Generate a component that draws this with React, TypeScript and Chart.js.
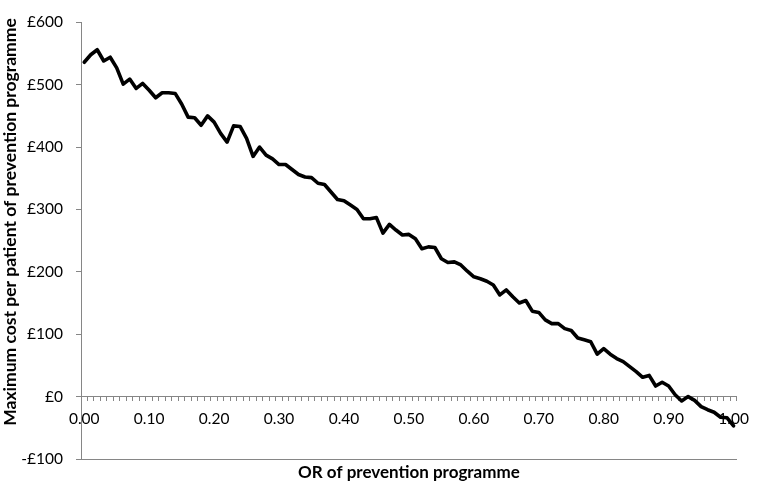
import React, { useEffect, useRef } from "react";
import { Chart, registerables } from "chart.js";

Chart.register(...registerables);

const OR_CATEGORIES = [
  "0.00","0.01","0.02","0.03","0.04","0.05","0.06","0.07","0.08","0.09",
  "0.10","0.11","0.12","0.13","0.14","0.15","0.16","0.17","0.18","0.19",
  "0.20","0.21","0.22","0.23","0.24","0.25","0.26","0.27","0.28","0.29",
  "0.30","0.31","0.32","0.33","0.34","0.35","0.36","0.37","0.38","0.39",
  "0.40","0.41","0.42","0.43","0.44","0.45","0.46","0.47","0.48","0.49",
  "0.50","0.51","0.52","0.53","0.54","0.55","0.56","0.57","0.58","0.59",
  "0.60","0.61","0.62","0.63","0.64","0.65","0.66","0.67","0.68","0.69",
  "0.70","0.71","0.72","0.73","0.74","0.75","0.76","0.77","0.78","0.79",
  "0.80","0.81","0.82","0.83","0.84","0.85","0.86","0.87","0.88","0.89",
  "0.90","0.91","0.92","0.93","0.94","0.95","0.96","0.97","0.98","0.99",
  "1.00",
];

const MAX_COST = [
  536, 548, 556, 538, 544, 527, 501, 509, 494, 502,
  491, 479, 487, 487, 486, 469, 448, 447, 435, 450,
  440, 422, 408, 434, 433, 414, 385, 400, 387, 381,
  372, 372, 364, 356, 352, 351, 342, 340, 328, 316,
  314, 307, 300, 285, 285, 287, 262, 276, 267, 259,
  260, 253, 237, 240, 239, 221, 215, 216, 211, 201,
  192, 189, 185, 179, 163, 171, 160, 150, 154, 137,
  135, 123, 117, 117, 109, 106, 94, 91, 88, 68,
  77, 68, 61, 56, 48, 40, 31, 34, 17, 23,
  17, 3, -7, 0, -6, -16, -21, -25, -33, -34,
  -47,
];

const X_TICK_LABELS = ["0.00","0.10","0.20","0.30","0.40","0.50","0.60","0.70","0.80","0.90","1.00"];
const Y_MIN = -100;
const Y_MAX = 600;
const Y_STEP = 100;

const X_TITLE = "OR of prevention programme";
const Y_TITLE = "Maximum cost per patient of prevention programme";

const AXIS_GREY = "#868686";
const FONT = "Lato";

const yTitlePlugin = {
  id: "yTitlePlugin",
  afterDraw(chart: any) {
    const ctx = chart.ctx;
    ctx.save();
    ctx.font = `bold 17.5px ${FONT}`;
    ctx.fillStyle = "#000";
    ctx.textAlign = "center";
    ctx.textBaseline = "middle";
    ctx.translate(10, 222);
    ctx.rotate(-Math.PI / 2);
    ctx.fillText(Y_TITLE, 0, 0);
    ctx.restore();
  },
};

export default function App() {
  const ref = useRef<HTMLCanvasElement | null>(null);

  useEffect(() => {
    if (!ref.current) return;
    const chart = new Chart(ref.current, {
      type: "line",
      data: {
        labels: OR_CATEGORIES,
        datasets: [
          {
            data: MAX_COST,
            borderColor: "#000000",
            borderWidth: 3.6,
            pointRadius: 0,
            tension: 0,
            borderJoinStyle: "round",
            borderCapStyle: "round",
            xAxisID: "x",
            yAxisID: "y",
          },
        ],
      },
      plugins: [yTitlePlugin],
      options: {
        responsive: false,
        animation: false,
        layout: { padding: { left: 0, right: 15, top: 0, bottom: 0 } },
        plugins: { legend: { display: false }, tooltip: { enabled: false } },
        scales: {
          x: {
            type: "category",
            position: { y: 0 } as any,
            offset: true,
            grid: {
              display: true,
              drawOnChartArea: false,
              drawTicks: true,
              tickLength: 4,
              color: AXIS_GREY,
              offset: true,
            },
            border: { display: true, color: AXIS_GREY, width: 1 },
            ticks: {
              autoSkip: false,
              maxRotation: 0,
              minRotation: 0,
              padding: 9,
              color: "#000",
              font: { family: FONT, size: 15.5 },
              callback: function (this: any, _v: any, i: number) {
                const lbl = OR_CATEGORIES[i];
                return X_TICK_LABELS.includes(lbl) ? lbl : "";
              },
            },
          },
          x2: {
            type: "category",
            position: "bottom",
            display: true,
            offset: true,
            grid: { display: false },
            border: { display: true, color: AXIS_GREY, width: 1 },
            ticks: { display: false },
            title: {
              display: true,
              text: X_TITLE,
              color: "#000",
              font: { family: FONT, size: 17, weight: "bold", lineHeight: 1.2 },
              padding: { top: 0, bottom: 1 },
            },
            afterFit: (s: any) => {
              s.height = 25;
            },
          },
          y: {
            type: "linear",
            position: "left",
            min: Y_MIN,
            max: Y_MAX,
            grid: {
              display: true,
              drawOnChartArea: false,
              drawTicks: true,
              tickLength: 5,
              color: AXIS_GREY,
            },
            border: { display: true, color: AXIS_GREY, width: 1 },
            ticks: {
              stepSize: Y_STEP,
              padding: 13,
              color: "#000",
              font: { family: FONT, size: 15.5 },
              callback: (v: any) => (Number(v) < 0 ? "-£" : "£") + Math.abs(Number(v)),
            },
            afterFit: (s: any) => {
              s.width = 81;
            },
          },
        },
      },
    });
    return () => chart.destroy();
  }, []);

  return (
    <div style={{ position: "fixed", left: 0, top: 0, width: 758, height: 484, background: "#fff" }}>
      <canvas ref={ref} width={758} height={484} style={{ display: "block" }} />
    </div>
  );
}
